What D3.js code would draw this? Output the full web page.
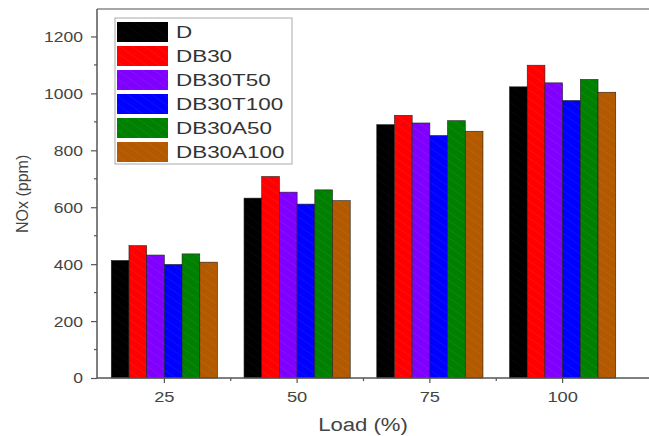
<!DOCTYPE html>
<html>
<head>
<meta charset="utf-8">
<script src="https://cdn.jsdelivr.net/npm/d3@7/dist/d3.min.js"></script>
<style>
  body { margin: 0; background: #fff; }
  svg { display: block; font-family: "Liberation Sans", Arial, sans-serif; }
</style>
</head>
<body>
<div id="chart"></div>
<script>
const loads = ["25", "50", "75", "100"];
const series = ["D", "DB30", "DB30T50", "DB30T100", "DB30A50", "DB30A100"];
const colors = ["#000000", "#ff0000", "#8000ff", "#0000ff", "#008000", "#b35900"];
// NOx (ppm) per series, one value per load
const nox = {
  D:        [413, 632, 890, 1023],
  DB30:     [465, 708, 923, 1099],
  DB30T50:  [432, 653, 896, 1037],
  DB30T100: [399, 611, 852, 975],
  DB30A50:  [436, 661, 904, 1049],
  DB30A100: [407, 623, 867, 1004]
};
const yTicks = [0, 200, 400, 600, 800, 1000, 1200];

const width = 649, height = 436;
const margin = { top: 8, right: 20, bottom: 58, left: 97 };

const svg = d3.select("#chart").append("svg")
  .attr("width", width).attr("height", height);

// the source picture is stretched sideways, so text is widened to match
function stretch(sel, k) {
  sel.each(function () {
    const t = d3.select(this);
    const tx = +t.attr("x") || 0;
    const ty = +t.attr("y") || 0;
    t.attr("x", 0).attr("y", 0)
      .attr("transform", `translate(${tx},${ty}) scale(${k},1)`);
  });
}

// light diagonal hatch on top of each fill
const defs = svg.append("defs");
colors.forEach((c, i) => {
  const p = defs.append("pattern")
    .attr("id", "hatch" + i)
    .attr("patternUnits", "userSpaceOnUse")
    .attr("width", 7).attr("height", 7)
    .attr("patternTransform", "rotate(-55)");
  p.append("rect").attr("width", 7).attr("height", 7).attr("fill", c);
  p.append("line")
    .attr("x1", 0).attr("y1", 0).attr("x2", 0).attr("y2", 7)
    .attr("stroke", "#fff").attr("stroke-width", 1.5)
    .attr("stroke-opacity", i === 0 ? 0.03 : 0.07);
});

const x = d3.scaleBand()
  .domain(loads)
  .range([98, 629])
  .paddingInner(0.2)
  .paddingOuter(0.1);

const xs = d3.scaleBand()
  .domain(series)
  .range([0, x.bandwidth()]);

const y = d3.scaleLinear()
  .domain([0, 1300])
  .range([height - margin.bottom, margin.top]);

const axisColor = "#555";
const x0 = margin.left;
const y0 = y(0);

// ── Bars ──
const groups = svg.append("g")
  .selectAll("g")
  .data(loads)
  .join("g")
  .attr("transform", (d) => `translate(${x(d)},0)`);

groups.selectAll("rect")
  .data((d, i) => series.map((s, k) => ({ s, k, v: nox[s][i] })))
  .join("rect")
  .attr("x", (d) => xs(d.s))
  .attr("width", xs.bandwidth())
  .attr("y", (d) => y(d.v))
  .attr("height", (d) => y0 - y(d.v))
  .attr("fill", (d) => `url(#hatch${d.k})`)
  .attr("stroke", "#222")
  .attr("stroke-width", 0.6);

// ── Frame ──
svg.append("line")
  .attr("x1", x0).attr("x2", width).attr("y1", 9).attr("y2", 9)
  .attr("stroke", "#888").attr("stroke-width", 1.5);

// ── Y axis ──
const yAxis = svg.append("g")
  .attr("transform", `translate(${x0},0)`)
  .call(d3.axisLeft(y).tickValues(yTicks).tickFormat(d3.format("d")).tickSize(6).tickPadding(8));
yAxis.select(".domain").attr("stroke", axisColor).attr("stroke-width", 1.5)
  .attr("d", `M0,${y0}V9`);
yAxis.selectAll(".tick line").attr("stroke", axisColor).attr("stroke-width", 1.2);
yAxis.selectAll(".tick text").attr("fill", "#444").attr("font-size", "15.5px");
stretch(yAxis.selectAll(".tick text"), 1.13);

// minor y ticks
svg.append("g")
  .selectAll("line")
  .data(d3.range(100, 1300, 200))
  .join("line")
  .attr("x1", x0 - 3).attr("x2", x0)
  .attr("y1", (d) => y(d)).attr("y2", (d) => y(d))
  .attr("stroke", axisColor).attr("stroke-width", 1.2);

// ── X axis ──
const xAxis = svg.append("g")
  .attr("transform", `translate(0,${y0})`)
  .call(d3.axisBottom(x).tickSize(5).tickPadding(8));
xAxis.select(".domain").attr("stroke", axisColor).attr("stroke-width", 1.5)
  .attr("d", `M${x0},0H${width}`);
xAxis.selectAll(".tick line").attr("stroke", axisColor).attr("stroke-width", 1.2);
xAxis.selectAll(".tick text").attr("fill", "#444").attr("font-size", "15.5px");
stretch(xAxis.selectAll(".tick text"), 1.18);

// minor x ticks between groups
svg.append("g")
  .selectAll("line")
  .data(loads.slice(1))
  .join("line")
  .attr("x1", (d) => x(d) - x.step() * x.paddingInner() / 2)
  .attr("x2", (d) => x(d) - x.step() * x.paddingInner() / 2)
  .attr("y1", y0).attr("y2", y0 + 3)
  .attr("stroke", axisColor).attr("stroke-width", 1.2);

// ── Axis titles ──
const xTitle = svg.append("text")
  .attr("x", 363).attr("y", 431)
  .attr("text-anchor", "middle")
  .attr("fill", "#444")
  .attr("font-size", "18px")
  .text("Load (%)");
stretch(xTitle, 1.23);

svg.append("text")
  .attr("transform", `translate(28,233) rotate(-90)`)
  .attr("text-anchor", "start")
  .attr("fill", "#444")
  .attr("font-size", "16px")
  .text("NOx (ppm)");

// ── Legend ──
const legend = svg.append("g").attr("transform", "translate(115,18)");
legend.append("rect")
  .attr("x", 0).attr("y", 0).attr("width", 177).attr("height", 146)
  .attr("fill", "#fff").attr("stroke", "#aaa").attr("stroke-width", 1);

series.forEach((s, i) => {
  legend.append("rect")
    .attr("x", 2).attr("y", 4 + i * 24)
    .attr("width", 51).attr("height", 20)
    .attr("fill", `url(#hatch${i})`);
  const t = legend.append("text")
    .attr("x", 61).attr("y", 20 + i * 24)
    .attr("fill", "#333")
    .attr("font-size", "17px")
    .text(s);
  stretch(t, 1.32);
});
</script>
</body>
</html>
